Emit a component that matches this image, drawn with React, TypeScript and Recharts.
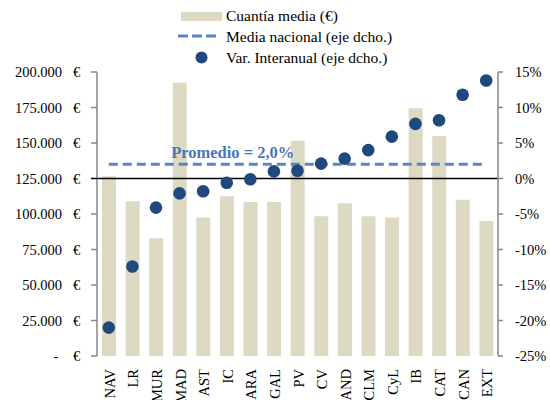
import React from 'react';
import { ComposedChart, Bar, Line, XAxis, YAxis, ReferenceLine, LabelList } from 'recharts';

const categories = ['NAV', 'LR', 'MUR', 'MAD', 'AST', 'IC', 'ARA', 'GAL', 'PV', 'CV', 'AND', 'CLM', 'CyL', 'IB', 'CAT', 'CAN', 'EXT'];
const cuantiaMedia = [126500, 109000, 83000, 192500, 97500, 112500, 108500, 108500, 151500, 98500, 107500, 98500, 97500, 174500, 155000, 110000, 95000];
const varInteranual = [-21.0, -12.4, -4.1, -2.1, -1.8, -0.6, -0.1, 1.0, 1.1, 2.1, 2.8, 4.0, 5.9, 7.7, 8.2, 11.8, 13.8];
const mediaNacional = 2.0;
const leftTicks = [0, 25000, 50000, 75000, 100000, 125000, 150000, 175000, 200000];
const rightTicks = [-25, -20, -15, -10, -5, 0, 5, 10, 15];
const boundaryTicks = categories.map((_, i) => i).concat([categories.length]);

const data = categories.map((c, i) => ({
  cat: c,
  cuantia: cuantiaMedia[i],
  varI: varInteranual[i],
  nacional: mediaNacional,
}));

const FONT = '"Liberation Serif", "Times New Roman", serif';
const AXIS = '#868686';
const BAR = '#DDD9C3';
const DOT = '#1F497D';
const DASH = '#5A86C5';
const LABEL = '#4A76B8';

const fmtThousands = (v: number) => v.toLocaleString('de-DE');

const LeftTick = (props: any) => {
  const { x, y, payload } = props;
  const v = payload.value;
  return (
    <g>
      {v === 125000 && <line x1={x} x2={x + 6} y1={y} y2={y} stroke="#000" strokeWidth={1.3} />}
      {v === 0 ? (
        <text x={x - 35} y={y} dy={5} fontFamily={FONT} fontSize={14.5} fill="#000" textAnchor="middle">-</text>
      ) : (
        <text x={x - 29} y={y} dy={5} fontFamily={FONT} fontSize={14.5} fill="#000" textAnchor="end">{fmtThousands(v)}</text>
      )}
      <text x={x - 18} y={y} dy={5} fontFamily={FONT} fontSize={14.5} fill="#000" textAnchor="start">€</text>
    </g>
  );
};

const CatTick = (props: any) => {
  const { x, y, payload } = props;
  return (
    <text
      x={x + 6}
      y={y + 13}
      transform={`rotate(-90, ${x + 6}, ${y + 13})`}
      textAnchor="end"
      fontFamily={FONT}
      fontSize={14.5}
      fill="#000"
    >
      {payload.value}
    </text>
  );
};

const PromedioLabel = (props: any) => {
  const { x, y, index } = props;
  if (index !== 5) return null;
  return (
    <text x={x + 6} y={y - 6} textAnchor="middle" fontFamily={FONT} fontSize={16.5} fontWeight="bold" fill={LABEL}>
      Promedio = 2,0%
    </text>
  );
};

const LegendBox = () => (
  <svg width={550} height={70} style={{ position: 'absolute', left: 0, top: 0 }}>
    <rect x={181} y={12} width={41} height={9} fill={BAR} />
    <text x={226} y={21} fontFamily={FONT} fontSize={15.5} fill="#000">Cuantía media (€)</text>
    <line x1={178} x2={216} y1={36} y2={36} stroke={DASH} strokeWidth={3} strokeDasharray="10 4" />
    <text x={226} y={42} fontFamily={FONT} fontSize={15.5} fill="#000">Media nacional (eje dcho.)</text>
    <circle cx={201.5} cy={57.5} r={6} fill={DOT} />
    <text x={226} y={63} fontFamily={FONT} fontSize={15.5} fill="#000">Var. Interanual (eje dcho.)</text>
  </svg>
);

export default function App() {
  return (
    <div style={{ position: 'absolute', left: 0, top: 0, width: 550, height: 400, background: '#fff' }}>
      <ComposedChart width={550} height={400} data={data} margin={{ top: 72, right: 0, bottom: 0, left: 0 }}>
        <XAxis
          xAxisId="grid"
          type="number"
          dataKey={() => 0}
          domain={[0, categories.length]}
          ticks={boundaryTicks}
          tick={false}
          tickSize={6}
          height={0}
          stroke={AXIS}
          axisLine={{ stroke: AXIS, strokeWidth: 1.5 }}
          tickLine={{ stroke: AXIS, strokeWidth: 1.5 }}
          allowDataOverflow
        />
        <XAxis
          xAxisId="cat"
          dataKey="cat"
          type="category"
          height={44}
          axisLine={false}
          tickLine={false}
          tickSize={0}
          tickMargin={0}
          interval={0}
          tick={<CatTick />}
        />
        <YAxis
          yAxisId="left"
          width={97}
          domain={[0, 200000]}
          ticks={leftTicks}
          interval={0}
          tickSize={6}
          tickMargin={0}
          axisLine={{ stroke: AXIS, strokeWidth: 1.5 }}
          tickLine={{ stroke: AXIS, strokeWidth: 1.5 }}
          tick={<LeftTick />}
        />
        <YAxis
          yAxisId="right"
          orientation="right"
          width={52}
          domain={[-25, 15]}
          ticks={rightTicks}
          interval={0}
          tickSize={5}
          tickMargin={12}
          axisLine={{ stroke: AXIS, strokeWidth: 1.5 }}
          tickLine={{ stroke: AXIS, strokeWidth: 1.5 }}
          tickFormatter={(v: number) => `${v}%`}
          tick={{ fontFamily: FONT, fontSize: 14.5, fill: '#000', textAnchor: 'start' }}
        />
        <Bar xAxisId="cat" yAxisId="left" dataKey="cuantia" fill={BAR} barSize={14} isAnimationActive={false} />
        <ReferenceLine xAxisId="cat" yAxisId="right" y={0} stroke="#000" strokeWidth={1.3} />
        <Line
          xAxisId="cat"
          yAxisId="right"
          dataKey="nacional"
          stroke={DASH}
          strokeWidth={3}
          strokeDasharray="9 5"
          dot={false}
          activeDot={false}
          isAnimationActive={false}
        >
          <LabelList dataKey="nacional" content={<PromedioLabel />} />
        </Line>
        <Line
          xAxisId="cat"
          yAxisId="right"
          dataKey="varI"
          stroke="none"
          strokeWidth={0}
          dot={{ r: 6.3, fill: DOT, stroke: 'none' }}
          activeDot={false}
          isAnimationActive={false}
        />
      </ComposedChart>
      <LegendBox />
    </div>
  );
}
